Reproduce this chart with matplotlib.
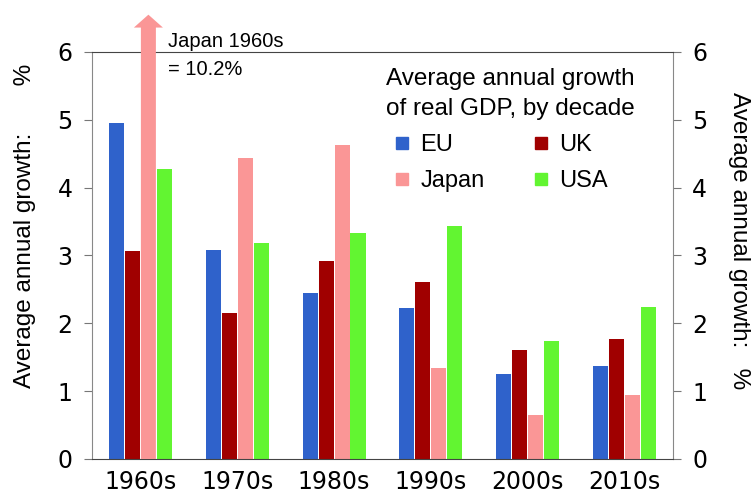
import numpy as np
import matplotlib
matplotlib.use("Agg")
import matplotlib.pyplot as plt
from matplotlib.lines import Line2D
from matplotlib.patches import FancyArrow

# Datos: crecimiento medio anual del PIB real por decada (%)
decades = ["1960s", "1970s", "1980s", "1990s", "2000s", "2010s"]
eu    = [4.95, 3.08, 2.45, 2.23, 1.25, 1.37]
uk    = [3.07, 2.15, 2.92, 2.61, 1.61, 1.77]
japan = [10.2, 4.44, 4.63, 1.34, 0.65, 0.94]
usa   = [4.28, 3.18, 3.33, 3.44, 1.74, 2.24]

series = [("EU", eu, "#2f62cb"),
          ("UK", uk, "#a00000"),
          ("Japan", japan, "#fa9696"),
          ("USA", usa, "#62f531")]

y_max = 6
step = 0.165
width = 0.155

fig = plt.figure(figsize=(7.51, 4.97), dpi=100)
ax = fig.add_axes([0.1225, 0.0765, 0.7735, 0.8189])

x = np.arange(len(decades))
for i, (name, vals, col) in enumerate(series):
    pos = x + (i - 1.5) * step
    for xp, v in zip(pos, vals):
        if v > y_max:
            # barra recortada -> flecha por encima del eje
            top = y_max + 0.55
            ax.add_patch(FancyArrow(xp, 0, 0, top, width=width, head_width=0.30,
                                    head_length=0.19, length_includes_head=True,
                                    color=col, lw=0, clip_on=False, zorder=3))
            ax.text(xp + 0.2, y_max + 0.3, f"{name} {decades[0]}\n= {v}%",
                    fontsize=14.5, family="Liberation Sans", va="top", ha="left",
                    linespacing=1.6, clip_on=False)
        else:
            ax.bar(xp, v, width=width, color=col, zorder=2)

ax.set_xlim(-0.5, len(decades) - 0.5)
ax.set_ylim(0, y_max)
ax.set_xticks(x)
ax.set_xticklabels(decades, fontsize=17)
ax.tick_params(axis="x", length=0, pad=8)
ax.set_yticks(range(0, y_max + 1))
ax.tick_params(axis="y", direction="out", length=6, color="#777777",
               labelsize=17, pad=8, right=True, labelright=True)

for side in ["left", "right"]:
    ax.spines[side].set_color("#888888")
for side in ["top", "bottom"]:
    ax.spines[side].set_color("#444444")

fig.text(0.033, 1 - 226 / 497, "Average annual growth:       %", rotation=90,
         ha="center", va="center", fontsize=17.5, family="Liberation Sans")
fig.text(0.984, 1 - 241 / 497, "Average annual growth:   %", rotation=-90,
         ha="center", va="center", fontsize=17.5, family="Liberation Sans")

# Leyenda
handles = {name: Line2D([], [], marker="s", ls="none", color=col, markersize=8)
           for name, vals, col in series}
order = ["EU", "Japan", "UK", "USA"]
leg = ax.legend([handles[n] for n in order], order, ncol=2,
                title="Average annual growth\nof real GDP, by decade",
                loc="upper left", bbox_to_anchor=(0.506, 0.96),
                frameon=False, borderpad=0, borderaxespad=0,
                handlelength=1.4, handletextpad=0.05, columnspacing=1.7,
                labelspacing=0.6, alignment="left",
                prop={"family": "Liberation Sans", "size": 17},
                title_fontproperties={"family": "Liberation Sans", "size": 17.5})
leg.get_title().set_linespacing(1.45)

fig.savefig("out.png", dpi=100)
